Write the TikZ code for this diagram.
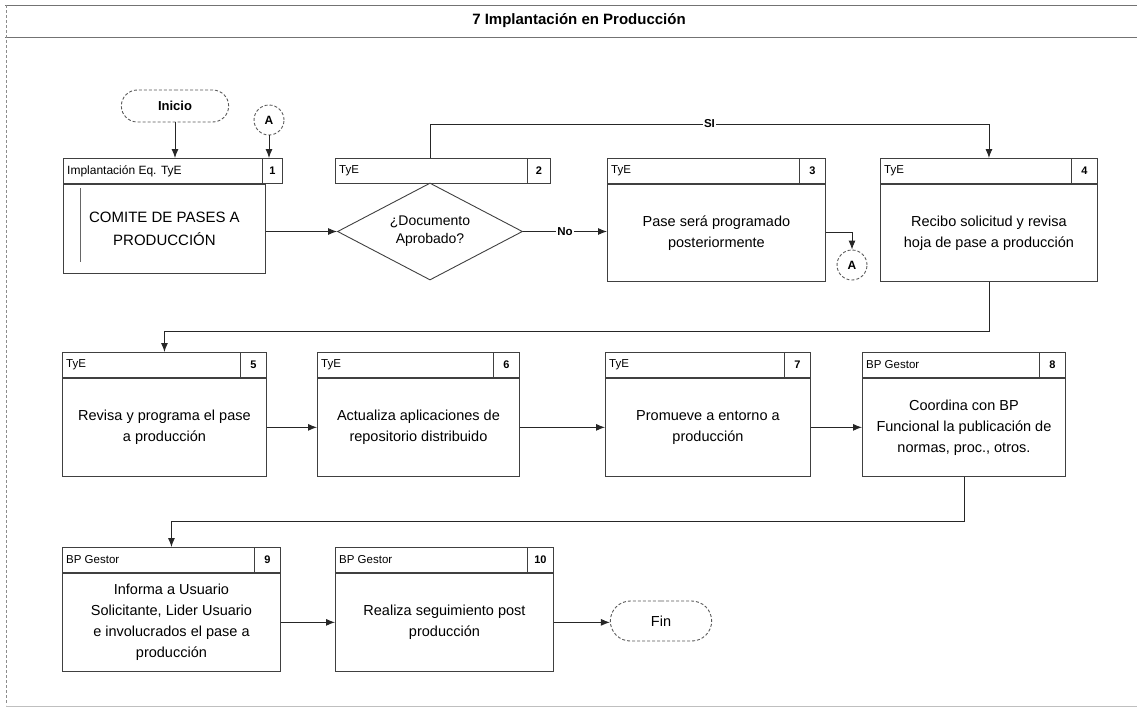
\documentclass[tikz,border=0pt]{standalone}
\usepackage{fontspec}
\setmainfont{Liberation Sans}
\usetikzlibrary{arrows.meta,shapes.geometric,shapes.misc}

\tikzset{
  edge/.style={draw=black!75, line width=0.9pt},
  hdr/.style={edge, rectangle, minimum height=25pt, inner sep=0pt, anchor=north west},
  numcell/.style={edge, rectangle, minimum height=25pt, minimum width=26pt, inner sep=0pt,
    anchor=north east, font=\fontsize{11}{13}\selectfont\bfseries},
  role/.style={anchor=west, inner sep=0pt, xshift=4pt, font=\fontsize{11.5}{13}\selectfont},
  body/.style={edge, rectangle, inner sep=2pt, anchor=north, align=center,
    font=\fontsize{14.5}{21}\selectfont},
  term/.style={draw=black!65, densely dashed, line width=0.9pt, rounded rectangle},
  link/.style={draw=black!65, densely dashed, line width=0.9pt, circle, minimum size=30pt,
    inner sep=0pt, font=\fontsize{12}{14}\selectfont\bfseries},
  arr/.style={draw=black!85, line width=0.9pt, -{Latex[length=9pt,width=7pt]}},
  lbl/.style={fill=white, inner sep=1.5pt, font=\fontsize{11.5}{13}\selectfont\bfseries},
}

% one process step: name, left x, top y, width, body height, role, number, text
\newcommand{\procstep}[8]{%
  \node[hdr, minimum width=#4pt] (#1h) at (#2,#3) {};
  \node[role] at (#1h.west) {#6};
  \node[numcell] (#1n) at (#1h.north east) {#7};
  \node[body, minimum width=#4pt, minimum height=#5pt] (#1) at (#1h.south) {#8};
}

\begin{document}
\begin{tikzpicture}[x=1pt, y=-1pt]
  \useasboundingbox (0,0) rectangle (1137,710);

  % title band and page frame
  \draw[black!55, line width=0.8pt] (5,5) -- (1137,5);
  \draw[black!55, line width=0.8pt] (5,37) -- (1137,37);
  \draw[black!45, densely dashed, line width=0.6pt] (6,5) -- (6,705);
  \draw[black!25, line width=0.6pt] (6,706) -- (1137,706);
  \node[font=\fontsize{15}{18}\selectfont\bfseries] (title) at (579,21) {7 Implantación en Producción};

  % start and off-page links
  \node[term, minimum width=114pt, minimum height=32pt,
        font=\fontsize{13}{15}\selectfont\bfseries] (ini) at (175,106) {Inicio};
  \node[link] (ca1) at (269,120) {A};

  % step 1 (narrower body under a wider header)
  \node[hdr, minimum width=219pt] (b1h) at (63,158) {};
  \node[role, font=\fontsize{12}{14}\selectfont] at (b1h.west) {Implantación Eq. TyE};
  \node[numcell, minimum width=20pt] (b1n) at (b1h.north east) {1};
  \node[body, anchor=north west, minimum width=202pt, minimum height=89pt,
        font=\fontsize{15}{23}\selectfont] (b1) at (b1h.south west) {COMITE DE PASES A\\PRODUCCIÓN};
  \draw[black!60, line width=0.7pt] (80,188) -- (80,262);

  % step 2: header and decision
  \node[hdr, minimum width=215pt] (b2h) at (335,158) {};
  \node[role] at (b2h.west) {TyE};
  \node[numcell, minimum width=23pt] (b2n) at (b2h.north east) {2};
  \node[edge, diamond, aspect=1.9, minimum width=185pt, minimum height=97pt, inner sep=0pt,
        align=center, font=\fontsize{14}{18}\selectfont] (d2) at (430,231.5) {¿Documento\\Aprobado?};

  \procstep{b3}{607}{158}{218}{97}{TyE}{3}{Pase será programado\\posteriormente}
  \procstep{b4}{880}{158}{217}{97}{TyE}{4}{Recibo solicitud y revisa\\hoja de pase a producción}
  \node[link] (ca2) at (852,265) {A};

  \procstep{b5}{62}{352}{204}{98}{TyE}{5}{Revisa y programa el pase\\a producción}
  \procstep{b6}{317}{352}{202}{98}{TyE}{6}{Actualiza aplicaciones de\\repositorio distribuido}
  \procstep{b7}{605}{352}{205}{98}{TyE}{7}{Promueve a entorno a\\producción}
  \procstep{b8}{862}{352}{203}{98}{BP Gestor}{8}{Coordina con BP\\Funcional la publicación de\\normas, proc., otros.}

  \procstep{b9}{62}{547}{218}{98}{BP Gestor}{9}{Informa a Usuario\\Solicitante, Lider Usuario\\e involucrados el pase a\\producción}
  \procstep{b10}{335}{547}{218}{98}{BP Gestor}{10}{Realiza seguimiento post\\producción}
  \node[term, minimum width=108pt, minimum height=40pt,
        font=\fontsize{14.5}{17}\selectfont] (fin) at (661,621) {Fin};

  % connectors
  \draw[arr] (ini.south) -- (ini.south |- b1h.north);
  \draw[arr] (ca1.south) -- (ca1.south |- b1h.north);
  \draw[arr] (d2.west -| b1.east) -- (d2.west);
  \draw[arr] (d2.east) -- node[lbl] {No} (d2.east -| b3.west);
  \draw[arr] (b3.east) -| (ca2.north);
  \draw[arr] (b2h.north -| d2.north) -- ++(0,-34) -| node[lbl, pos=0.25] {SI} (b4h.north);
  \draw[arr] (b4.south) -- ++(0,50) -| (b5h.north);
  \draw[arr] (b5.east) -- (b6.west);
  \draw[arr] (b6.east) -- (b7.west);
  \draw[arr] (b7.east) -- (b8.west);
  \draw[arr] (b8.south) -- ++(0,45) -| (b9h.north);
  \draw[arr] (b9.east) -- (b10.west);
  \draw[arr] (b10.east) -- (b10.east -| fin.west);
\end{tikzpicture}
\end{document}
